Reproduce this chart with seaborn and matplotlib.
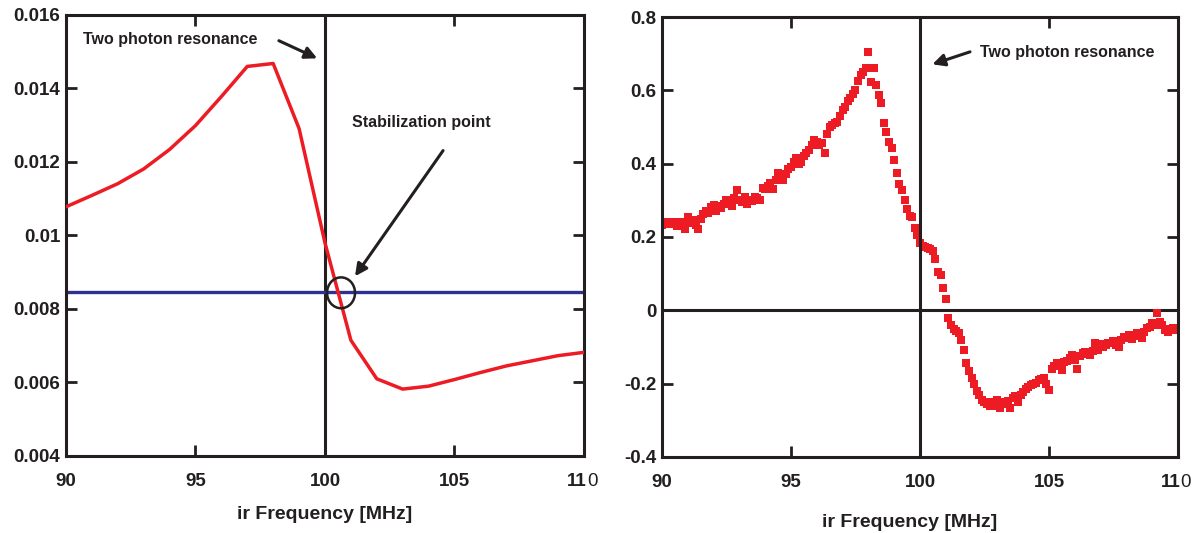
import numpy as np
import matplotlib
matplotlib.use("Agg")
import matplotlib.pyplot as plt
import seaborn as sns
from matplotlib.patches import Ellipse
from matplotlib.ticker import FuncFormatter

# left panel: error signal vs ir frequency, 1 MHz steps
left_freq = [90, 91, 92, 93, 94, 95, 96, 97, 98, 99, 100,
             101, 102, 103, 104, 105, 106, 107, 108, 109, 110]
left_signal = [0.01078, 0.01109, 0.01141, 0.01181, 0.01234, 0.01299, 0.01378,
               0.01460, 0.01468, 0.01291, 0.00980, 0.00715, 0.00610, 0.00582,
               0.00590, 0.00608, 0.00627, 0.00645, 0.00659, 0.00673, 0.00682]
lock_level = 0.00847
resonance_freq = 100
stab_freq = 100.62
stab_level = 0.00844

# right panel: measured signal, 0.1 MHz steps from 90 to 110
right_start = 90.0
right_step = 0.1
right_signal = [
    0.232, 0.238, 0.240, 0.236, 0.242, 0.237, 0.230, 0.240, 0.236, 0.222,   # 90
    0.254, 0.238, 0.245, 0.232, 0.223, 0.248, 0.262, 0.270, 0.265, 0.282,   # 91
    0.287, 0.270, 0.284, 0.278, 0.290, 0.300, 0.292, 0.285, 0.305, 0.327,   # 92
    0.300, 0.295, 0.308, 0.290, 0.302, 0.298, 0.310, 0.305, 0.300, 0.333,   # 93
    0.330, 0.338, 0.346, 0.332, 0.355, 0.374, 0.362, 0.356, 0.372, 0.385,   # 94
    0.392, 0.405, 0.415, 0.400, 0.405, 0.420, 0.430, 0.437, 0.452, 0.465,   # 95
    0.460, 0.450, 0.456, 0.428, 0.482, 0.500, 0.505, 0.512, 0.515, 0.530,   # 96
    0.546, 0.555, 0.570, 0.578, 0.590, 0.601, 0.625, 0.642, 0.650, 0.660,   # 97
    0.705, 0.624, 0.660, 0.615, 0.587, 0.565, 0.510, 0.487, 0.460, 0.442,   # 98
    0.410, 0.375, 0.345, 0.328, 0.302, 0.276, 0.256, 0.255, 0.225, 0.206,   # 99
    0.183, 0.176, 0.174, 0.170, 0.168, 0.162, 0.140, 0.105, 0.095, 0.062,   # 100
    0.030, -0.020, -0.040, -0.050, -0.056, -0.062, -0.080, -0.108, -0.144, -0.165,  # 101
    -0.185, -0.200, -0.220, -0.232, -0.245, -0.250, -0.255, -0.260, -0.250, -0.262,  # 102
    -0.245, -0.267, -0.250, -0.255, -0.248, -0.267, -0.240, -0.235, -0.250, -0.230,  # 103
    -0.222, -0.215, -0.210, -0.205, -0.200, -0.198, -0.190, -0.186, -0.185, -0.200,  # 104
    -0.217, -0.160, -0.152, -0.145, -0.150, -0.163, -0.140, -0.138, -0.130, -0.122,  # 105
    -0.135, -0.160, -0.125, -0.117, -0.115, -0.120, -0.122, -0.110, -0.090, -0.108,  # 106
    -0.092, -0.100, -0.094, -0.090, -0.088, -0.085, -0.095, -0.099, -0.080, -0.072,  # 107
    -0.075, -0.067, -0.078, -0.070, -0.063, -0.070, -0.076, -0.060, -0.049, -0.045,  # 108
    -0.035, -0.040, -0.008, -0.031, -0.040, -0.055, -0.058, -0.050, -0.049, -0.055,  # 109
    -0.050,                                                                 # 110
]
right_freq = right_start + right_step * np.arange(len(right_signal))

x_ticks = [90, 95, 100, 105, 110]
x_ticklabels = ["90", "95", "100", "105", ""]   # 110 is drawn by hand: "11" bold + thin "0"
left_yticks = [0.004, 0.006, 0.008, 0.010, 0.012, 0.014, 0.016]
right_yticks = [-0.4, -0.2, 0.0, 0.2, 0.4, 0.6, 0.8]

sns.set_style("ticks")
plt.rcParams["font.family"] = ["Liberation Sans", "DejaVu Sans"]
plt.rcParams["font.weight"] = "bold"

INK = "#231f20"
RED = "#ed1c24"
BLUE = "#2e3192"

fig = plt.figure(figsize=(11.93, 5.33), dpi=100)
ax1 = fig.add_axes([0.0553, 0.1445, 0.4342, 0.8274])
ax2 = fig.add_axes([0.5549, 0.1426, 0.4325, 0.8255])


def style_axes(ax, yticks, ylim):
    for sp in ax.spines.values():
        sp.set_visible(True)
        sp.set_linewidth(2.2)
        sp.set_color(INK)
    ax.set_xlim(90, 110)
    ax.set_ylim(*ylim)
    ax.set_xticks(x_ticks)
    ax.set_xticklabels(x_ticklabels)
    ax.set_yticks(yticks)
    ax.yaxis.set_major_formatter(FuncFormatter(lambda v, p: "%g" % round(v, 4)))
    ax.tick_params(direction="in", length=8, width=2, top=True, right=True,
                   colors=INK, labelsize=13.5)
    ax.tick_params(axis="x", pad=12)
    ax.tick_params(axis="y", pad=4)
    ax.set_ylabel("")
    ax.grid(False)
    # the last tick label: "11" bold, then a light "0", as in the original
    ax.annotate("11", xy=(110, 0), xycoords=("data", "axes fraction"),
                xytext=(2, -12), textcoords="offset points",
                ha="right", va="top", fontsize=13.5, color=INK)
    ax.annotate("0", xy=(110, 0), xycoords=("data", "axes fraction"),
                xytext=(2, -12), textcoords="offset points",
                ha="left", va="top", fontsize=13.5, fontweight="normal", color=INK)


# ---- left panel
ax1.axvline(resonance_freq, color=INK, lw=2.2, zorder=1)
ax1.axhline(lock_level, color=BLUE, lw=2.4, zorder=2)
sns.lineplot(x=left_freq, y=left_signal, ax=ax1, color=RED, lw=2.5, zorder=3)
ax1.add_patch(Ellipse((stab_freq, stab_level), 1.08, 0.00084, fill=False,
                      ec=INK, lw=1.8, zorder=4))
style_axes(ax1, left_yticks, (0.004, 0.016))
ax1.set_xlabel("ir Frequency [MHz]", fontsize=14, fontweight="bold", labelpad=12, color=INK)

arrow = dict(arrowstyle="-|>", color=INK, lw=2.2, mutation_scale=18, shrinkA=0, shrinkB=0)
ax1.text(90.67, 0.01533, "Two photon resonance", fontsize=11.5, va="center", ha="left", color=INK)
ax1.annotate("", xy=(99.70, 0.01482), xytext=(98.22, 0.01530), arrowprops=arrow)
ax1.text(101.04, 0.01308, "Stabilization point", fontsize=11.5, va="center", ha="left", color=INK)
ax1.annotate("", xy=(101.16, 0.00889), xytext=(104.56, 0.01231), arrowprops=arrow)

# ---- right panel
ax2.axhline(0, color=INK, lw=2.2, zorder=1)
sns.scatterplot(x=right_freq, y=right_signal, ax=ax2, color=RED, marker="s",
                s=30, linewidth=0, zorder=2)
ax2.axvline(resonance_freq, color=INK, lw=2.2, zorder=3)
style_axes(ax2, right_yticks, (-0.4, 0.8))
ax2.set_xlabel("ir Frequency [MHz]", fontsize=14, fontweight="bold", labelpad=17, color=INK)
ax2.xaxis.label.set_x(0.48)

ax2.text(102.34, 0.703, "Two photon resonance", fontsize=11.5, va="center", ha="left", color=INK)
ax2.annotate("", xy=(100.48, 0.671), xytext=(101.94, 0.705), arrowprops=arrow)

fig.savefig("out.png", dpi=100)
